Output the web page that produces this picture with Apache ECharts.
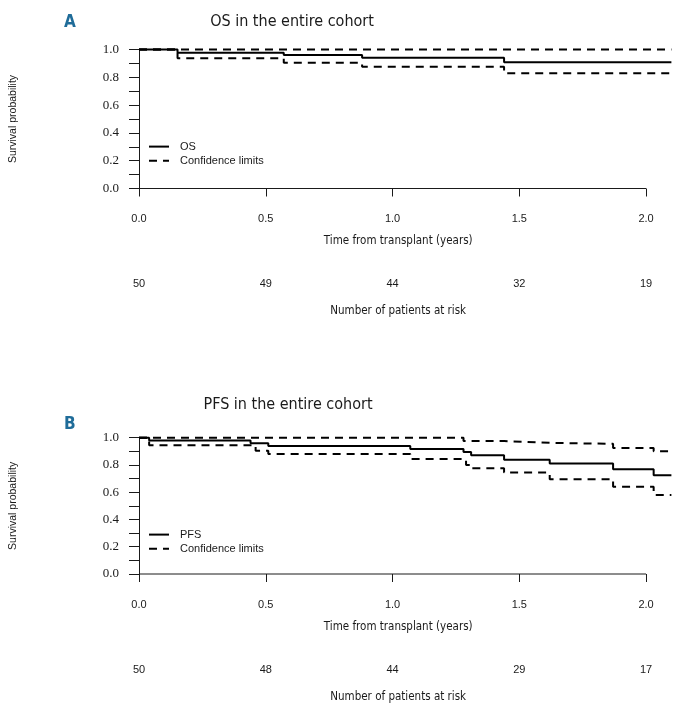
<!DOCTYPE html>
<html>
<head>
<meta charset="utf-8">
<script src="https://cdn.jsdelivr.net/npm/echarts@6/dist/echarts.min.js"></script>
<style>
  html, body { margin: 0; padding: 0; background: #fff; }
  #chart { width: 679px; height: 704px; }
</style>
</head>
<body>
<div id="chart"></div>
<script>
// tick positions / labels
const xTicks = [0, 0.5, 1.0, 1.5, 2.0];
const yTicks = [0, 0.1, 0.2, 0.3, 0.4, 0.5, 0.6, 0.7, 0.8, 0.9, 1.0];
const yLabels = [0, 0.2, 0.4, 0.6, 0.8, 1.0];

// numbers at risk under each x tick
const osRisk = [50, 49, 44, 32, 19];
const pfsRisk = [50, 48, 44, 29, 17];

// OS curve and confidence limits
const osTime = [0, 0.152, 0.571, 0.88, 1.44, 2.1];
const osSurv = [1, 0.977, 0.96, 0.94, 0.908, 0.908];
const osLower = [1, 0.937, 0.905, 0.876, 0.829, 0.829];
const osUpper = [1, 1, 1, 1, 1, 1];

// PFS curve and confidence limits
const pfsTime = [0, 0.04, 0.44, 0.51, 1.07, 1.28, 1.31, 1.44, 1.62, 1.87, 2.03, 2.1];
const pfsSurv = [1, 0.98, 0.96, 0.94, 0.918, 0.896, 0.872, 0.838, 0.81, 0.768, 0.725, 0.725];
const pfsLowerTime = [0, 0.04, 0.46, 0.51, 1.07, 1.29, 1.31, 1.44, 1.62, 1.87, 2.03, 2.1];
const pfsLower = [1, 0.945, 0.905, 0.88, 0.843, 0.80, 0.775, 0.744, 0.696, 0.641, 0.58, 0.58];
const pfsUpperTime = [0, 1.28, 1.44, 1.62, 1.87, 2.03, 2.1];
const pfsUpper = [1, 0.975, 0.962, 0.955, 0.925, 0.9, 0.9];

const COND = '"Liberation Sans Narrow", "DejaVu Sans Condensed", "Arial Narrow", sans-serif';
const SANS = '"Liberation Sans", Arial, sans-serif';
const SERIF = '"Liberation Serif", "Times New Roman", serif';
const INK = '#1a1a1a';

const zip = (xs, ys) => xs.map((x, i) => [x, ys[i]]);

const panels = [
  {
    letter: 'A', title: 'OS in the entire cohort', name: 'OS',
    top: 49.5, height: 139, titleTop: 9, titleLeft: 287, letterTop: 9, legendTop: 141,
    surv: zip(osTime, osSurv), lower: zip(osTime, osLower), upper: zip(osTime, osUpper),
    risk: osRisk
  },
  {
    letter: 'B', title: 'PFS in the entire cohort', name: 'PFS',
    top: 437.7, height: 138, titleTop: 392, titleLeft: 283, letterTop: 411, legendTop: 529,
    surv: zip(pfsTime, pfsSurv), lower: zip(pfsLowerTime, pfsLower), upper: zip(pfsUpperTime, pfsUpper),
    risk: pfsRisk
  }
];

const option = {
  animation: false,
  backgroundColor: '#fff',
  title: [],
  legend: [],
  grid: [],
  xAxis: [],
  yAxis: [],
  series: []
};

panels.forEach((p, i) => {
  option.title.push({
    text: p.letter, left: 59, top: p.letterTop,
    textStyle: { color: '#1f6c99', fontSize: 17, fontWeight: 'bold', fontFamily: COND }
  });
  option.title.push({
    text: p.title, left: p.titleLeft, top: p.titleTop, textAlign: 'center',
    textStyle: { color: INK, fontSize: 16, fontWeight: 'normal', fontFamily: COND }
  });

  option.grid.push({ left: 138, top: p.top, width: 533.4, height: p.height });

  option.xAxis.push({
    gridIndex: i, type: 'value', min: 0, max: 2.1,
    axisLine: { show: false },
    axisTick: { show: true, customValues: xTicks, length: 8, lineStyle: { color: INK, width: 1 } },
    axisLabel: {
      customValues: xTicks, formatter: v => v.toFixed(1), margin: 25,
      color: INK, fontSize: 11, fontFamily: SANS
    },
    splitLine: { show: false },
    name: 'Time from transplant (years)', nameLocation: 'middle', nameGap: 47,
    nameTextStyle: { color: INK, fontSize: 11.5, fontFamily: COND, padding: [0, 14, 0, 0] }
  });
  option.xAxis.push({
    gridIndex: i, type: 'value', min: 0, max: 2.1, position: 'bottom',
    axisLine: { show: false }, axisTick: { show: false }, splitLine: { show: false },
    axisLabel: {
      customValues: xTicks,
      formatter: v => String(p.risk[xTicks.findIndex(t => Math.abs(t - v) < 1e-6)]),
      margin: 90, color: INK, fontSize: 11, fontFamily: SANS
    },
    name: 'Number of patients at risk', nameLocation: 'middle', nameGap: 117,
    nameTextStyle: { color: INK, fontSize: 11.5, fontFamily: COND, padding: [0, 14, 0, 0] }
  });

  option.yAxis.push({
    gridIndex: i, type: 'value', min: 0, max: 1, interval: 0.1,
    axisLine: { show: true, lineStyle: { color: INK, width: 1 } },
    axisTick: { show: true, customValues: yTicks, length: 10, lineStyle: { color: INK, width: 1 } },
    axisLabel: {
      customValues: yLabels, formatter: v => v.toFixed(1), margin: 20,
      color: INK, fontSize: 13, fontFamily: SERIF
    },
    splitLine: { show: false },
    name: 'Survival probability', nameLocation: 'middle', nameGap: 120, nameRotate: 90,
    nameTextStyle: { color: INK, fontSize: 10.5, fontFamily: SANS }
  });

  const xi = i * 2;
  option.series.push({
    name: p.name, type: 'line', step: 'end', xAxisIndex: xi, yAxisIndex: i,
    data: p.surv, symbol: 'none', clip: false,
    lineStyle: { color: '#000', width: 2 }, itemStyle: { color: '#000' }
  });
  option.series.push({
    name: 'Confidence limits', type: 'line', step: 'end', xAxisIndex: xi, yAxisIndex: i,
    data: p.upper, symbol: 'none', clip: false,
    lineStyle: { color: '#000', width: 2, type: [8, 6] }, itemStyle: { color: '#000' }
  });
  option.series.push({
    name: 'Confidence limits', type: 'line', step: 'end', xAxisIndex: xi, yAxisIndex: i,
    data: p.lower, symbol: 'none', clip: false,
    lineStyle: { color: '#000', width: 2, type: [8, 6] }, itemStyle: { color: '#000' }
  });
  // x axis line only spans the tick range, R style
  option.series.push({
    name: 'axis', type: 'line', xAxisIndex: xi, yAxisIndex: i, silent: true,
    data: [[xTicks[0], 0], [xTicks[xTicks.length - 1], 0]], symbol: 'none', clip: false,
    lineStyle: { color: INK, width: 1 }, z: 1
  });

  option.legend.push({
    data: [p.name, 'Confidence limits'], orient: 'vertical', left: 148, top: p.legendTop,
    padding: 0, itemWidth: 20, itemHeight: 14, itemGap: 3, selectedMode: false,
    itemStyle: { opacity: 0, borderWidth: 0 },
    textStyle: { color: INK, fontSize: 11, fontFamily: SANS, padding: [0, 0, 0, 6] }
  });
});

const chart = echarts.init(document.getElementById('chart'));
chart.setOption(option);
window.addEventListener('resize', () => chart.resize());
</script>
</body>
</html>
